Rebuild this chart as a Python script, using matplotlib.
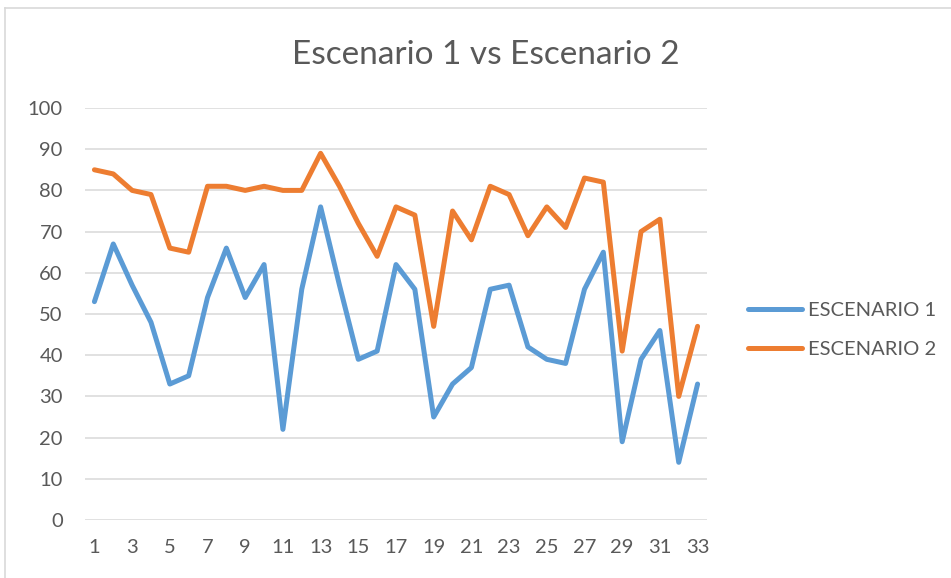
"""Escenario 1 vs Escenario 2 line chart (Excel style)."""

import matplotlib
matplotlib.use("Agg")
import matplotlib.pyplot as plt
from matplotlib.lines import Line2D
import numpy as np

plt.rcParams["font.family"] = ["Lato", "DejaVu Sans"]

# Data
x_labels = list(range(1, 34))
escenario_1 = [53, 67, 57, 48, 33, 35, 54, 66, 54, 62, 22, 56, 76, 57, 39, 41, 62,
               56, 25, 33, 37, 56, 57, 42, 39, 38, 56, 65, 19, 39, 46, 14, 33]
escenario_2 = [85, 84, 80, 79, 66, 65, 81, 81, 80, 81, 80, 80, 89, 81, 72, 64, 76,
               74, 47, 75, 68, 81, 79, 69, 76, 71, 83, 82, 41, 70, 73, 30, 47]
y_ticks = list(range(0, 101, 10))

TEXT = "#595959"
GRID = "#D9D9D9"
BLUE = "#5B9BD5"
ORANGE = "#ED7D31"

W, H = 951, 578
fig = plt.figure(figsize=(W / 100, H / 100), dpi=100, facecolor="white")
ax = fig.add_axes([85 / W, (H - 520) / H, 622 / W, 412 / H])

x = np.array(x_labels)
line_kw = dict(linewidth=3.6, solid_capstyle="round", solid_joinstyle="round")
ax.plot(x, escenario_1, color=BLUE, label="ESCENARIO 1", **line_kw)
ax.plot(x, escenario_2, color=ORANGE, label="ESCENARIO 2", **line_kw)

ax.set_xlim(0.5, 33.5)
ax.set_ylim(0, 100)
ax.set_yticks(y_ticks)
ax.set_xticks(x[::2])
ax.set_xticklabels([str(v) for v in x_labels[::2]])
ax.grid(axis="y", color=GRID, linewidth=1.1)
ax.set_axisbelow(True)
for s in ax.spines.values():
    s.set_visible(False)
ax.tick_params(axis="both", length=0, labelsize=14.5, colors=TEXT)
ax.tick_params(axis="y", pad=16)
ax.tick_params(axis="x", pad=14)

fig.text(486 / W, 1 - 55 / H, "Escenario 1 vs Escenario 2", ha="center",
         va="center", fontsize=24, color=TEXT)

fig.legend(loc="center left", bbox_to_anchor=(748 / W, 1 - 330 / H),
           frameon=False, fontsize=14.5, handlelength=2.7, handletextpad=0.3,
           labelspacing=1.05, borderpad=0, borderaxespad=0, labelcolor=TEXT)

# chart area border (only left and top edges are visible)
fig.add_artist(Line2D([5 / W, 5 / W], [0, 1 - 8 / H], color=GRID, linewidth=1.2,
                      transform=fig.transFigure))
fig.add_artist(Line2D([5 / W, 1], [1 - 8 / H, 1 - 8 / H], color=GRID, linewidth=1.2,
                      transform=fig.transFigure))

fig.savefig("out.png", dpi=100, facecolor="white")
